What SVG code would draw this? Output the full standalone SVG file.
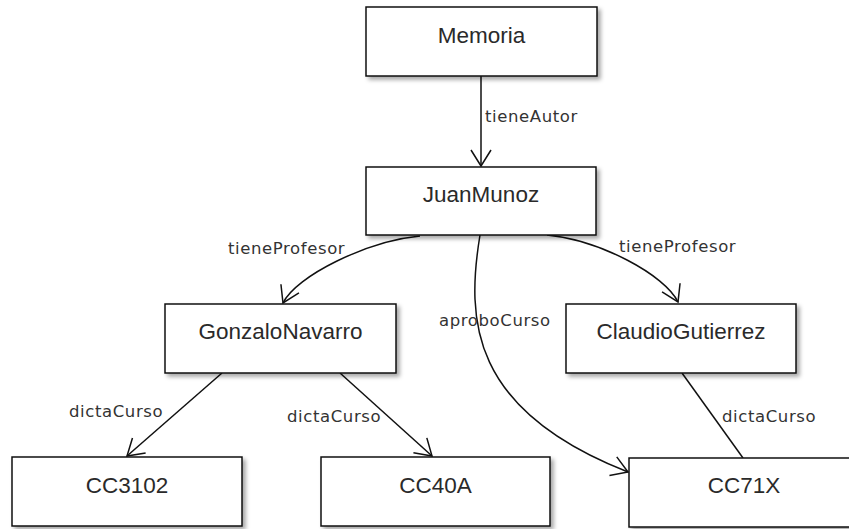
<svg xmlns="http://www.w3.org/2000/svg" width="849" height="529" viewBox="0 0 849 529">
<defs>
<filter id="sh" x="-10%" y="-10%" width="130%" height="140%">
<feDropShadow dx="3" dy="3" stdDeviation="2" flood-color="#000" flood-opacity="0.35"/>
</filter>
<marker id="arr" markerUnits="userSpaceOnUse" markerWidth="20" markerHeight="24" refX="0" refY="0" viewBox="-18 -12 20 24" orient="auto" overflow="visible">
<path d="M-16,-10 L0,0 L-16,10" fill="none" stroke="#111" stroke-width="1.5"/>
</marker>
<style>
.box{fill:#fff;stroke:#111;stroke-width:1.5;filter:url(#sh)}
.nt{font-family:"Liberation Sans",Arial,sans-serif;font-size:22.5px;fill:#2a2a2a;text-anchor:middle}
.et{font-family:"DejaVu Sans",Verdana,sans-serif;font-size:16.5px;fill:#333;letter-spacing:0.6px}
.c{fill:none;stroke:#111;stroke-width:1.5}
.a{marker-end:url(#arr)}
</style>
</defs>
<rect width="849" height="529" fill="#fff"/>
<g id="connectors">
<path class="c a" d="M481,76 L481,166"/>
<path class="c a" d="M420,236 C367,241 296,276 283,303"/>
<path class="c a" d="M547,235 C600,240 665,275 678,302"/>
<path class="c a" d="M480,235 C466,320 470,410 628,472"/>
<path class="c a" d="M222,373 L127,456"/>
<path class="c a" d="M340,373 L432,456"/>
<path class="c" d="M682,373 L743,458"/>
<text class="et" x="485" y="122">tieneAutor</text>
<text class="et" x="228" y="254">tieneProfesor</text>
<text class="et" x="619" y="252">tieneProfesor</text>
<text class="et" x="439" y="326">aproboCurso</text>
<text class="et" x="69" y="417">dictaCurso</text>
<text class="et" x="287" y="422">dictaCurso</text>
<text class="et" x="722" y="422">dictaCurso</text>
</g>
<g id="memoria"><rect class="box" x="366" y="7" width="231" height="69"/><text class="nt" x="481.5" y="43">Memoria</text></g>
<g id="juanmunoz"><rect class="box" x="366" y="167" width="230" height="68"/><text class="nt" x="481" y="202">JuanMunoz</text></g>
<g id="gonzalonavarro"><rect class="box" x="165" y="304" width="231" height="69"/><text class="nt" x="280.5" y="339">GonzaloNavarro</text></g>
<g id="claudiogutierrez"><rect class="box" x="566" y="304" width="230" height="69"/><text class="nt" x="681" y="339">ClaudioGutierrez</text></g>
<g id="cc3102"><rect class="box" x="12" y="457" width="230" height="69"/><text class="nt" x="127" y="493">CC3102</text></g>
<g id="cc40a"><rect class="box" x="321" y="457" width="229" height="69"/><text class="nt" x="435.5" y="493">CC40A</text></g>
<g id="cc71x"><rect class="box" x="629" y="458" width="230" height="69"/><text class="nt" x="744" y="493">CC71X</text></g>
</svg>
